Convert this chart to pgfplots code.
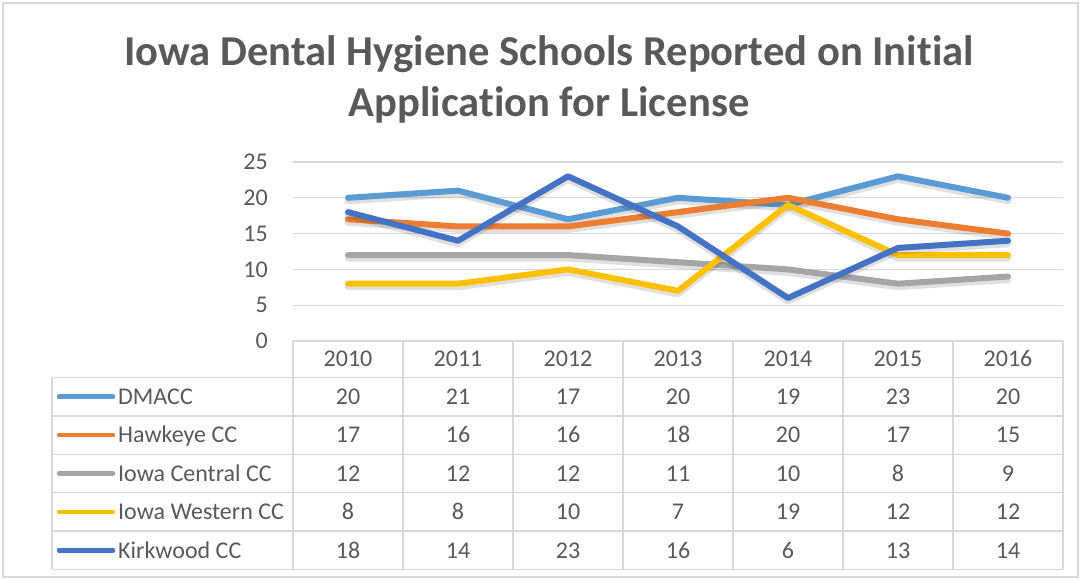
\documentclass[border=0pt]{standalone}
\usepackage{pgfplots}
\pgfplotsset{compat=1.18}
\usepackage{pgfplotstable}
\usepackage{fontspec}
\setmainfont{Carlito}[Ligatures=NoCommon]
\definecolor{cDM}{HTML}{5B9BD5}
\definecolor{cHA}{HTML}{ED7D31}
\definecolor{cIC}{HTML}{A5A5A5}
\definecolor{cIW}{HTML}{FFC000}
\definecolor{cKI}{HTML}{4472C4}
\definecolor{gridgray}{HTML}{D9D9D9}
\definecolor{textgray}{HTML}{595959}
\pgfplotstableread{
x DMACC Hawkeye Central Western Kirkwood
0 20 17 12 8 18
1 21 16 12 8 14
2 17 16 12 10 23
3 20 18 11 7 16
4 19 20 10 19 6
5 23 17 8 12 13
6 20 15 9 12 14
}\data
\begin{document}
\begin{tikzpicture}
\path[use as bounding box] (0pt,0pt) rectangle (1081pt,580pt);
\begin{axis}[at={(293pt,239pt)}, anchor=south west, scale only axis,
  width=770pt, height=179pt, xmin=-0.5, xmax=6.5, ymin=0, ymax=25,
  xtick=\empty, ytick={0,5,10,15,20,25},
  ymajorgrids, grid style={draw=gridgray, line width=1.3pt},
  axis line style={draw=none}, major tick length=0pt,
  /pgf/number format/assume math mode=true,
  yticklabel style={anchor=east, inner sep=0pt, xshift=-25pt, text=textgray, font=\fontsize{24}{28}\selectfont},
  clip=false,
  every axis plot/.append style={line width=6pt, line cap=round, line join=round}]
\foreach \s/\c in {DMACC/cDM, Hawkeye/cHA, Central/cIC, Western/cIW, Kirkwood/cKI}{
  \edef\tmp{\noexpand\addplot[draw=black, opacity=0.12, line width=7pt, yshift=-3pt, forget plot] table[x=x,y=\s] {\noexpand\data};
  \noexpand\addplot[draw=\c] table[x=x,y=\s] {\noexpand\data};}
  \tmp
}
\end{axis}
\begin{scope}[x=1pt,y=1pt]
\draw[gridgray, line width=1.2pt] (3,3) rectangle (1078,577);
\node[anchor=base, text=textgray, font=\bfseries\fontsize{42.6}{50}\selectfont] at (549,514) {Iowa Dental Hygiene Schools Reported on Initial};
\node[anchor=base, text=textgray, font=\bfseries\fontsize{42.6}{50}\selectfont] at (549,463) {Application for License};
% table grid
\draw[gridgray, line width=1.5pt] (293,239) -- (1063,239);
\foreach \k in {0,...,5}{
  \draw[gridgray, line width=1.5pt] (52,{580-377.5-38.4*\k}) -- (1063,{580-377.5-38.4*\k});
}
\foreach \i in {0,...,7}{
  \draw[gridgray, line width=1.5pt] ({293+110*\i},239) -- ({293+110*\i},{580-569.5});
}
\draw[gridgray, line width=1.5pt] (52,{580-377.5}) -- (52,{580-569.5});
% header years
\foreach \i in {0,...,6}{
  \pgfmathtruncatemacro{\yr}{2010+\i}
  \node[anchor=base, text=textgray, font=\fontsize{24}{28}\selectfont] at ({348+110*\i},{580-367}) {\yr};
}
% rows
\foreach \s/\c/\lab [count=\k from 0] in {DMACC/cDM/DMACC, Hawkeye/cHA/Hawkeye CC, Central/cIC/Iowa Central CC, Western/cIW/Iowa Western CC, Kirkwood/cKI/Kirkwood CC}{
  \draw[\c, line width=4.5pt, line cap=round] (59,{580-396.7-38.4*\k}) -- (113,{580-396.7-38.4*\k});
  \node[anchor=base west, inner sep=0pt, text=textgray, font=\fontsize{24}{28}\selectfont] at (118,{580-404.6-38.4*\k}) {\lab};
  \foreach \i in {0,...,6}{
    \pgfplotstablegetelem{\i}{\s}\of\data
    \node[anchor=base, text=textgray, font=\fontsize{24}{28}\selectfont] at ({348+110*\i},{580-404.6-38.4*\k}) {\pgfplotsretval};
  }
}
\end{scope}
\end{tikzpicture}
\end{document}
